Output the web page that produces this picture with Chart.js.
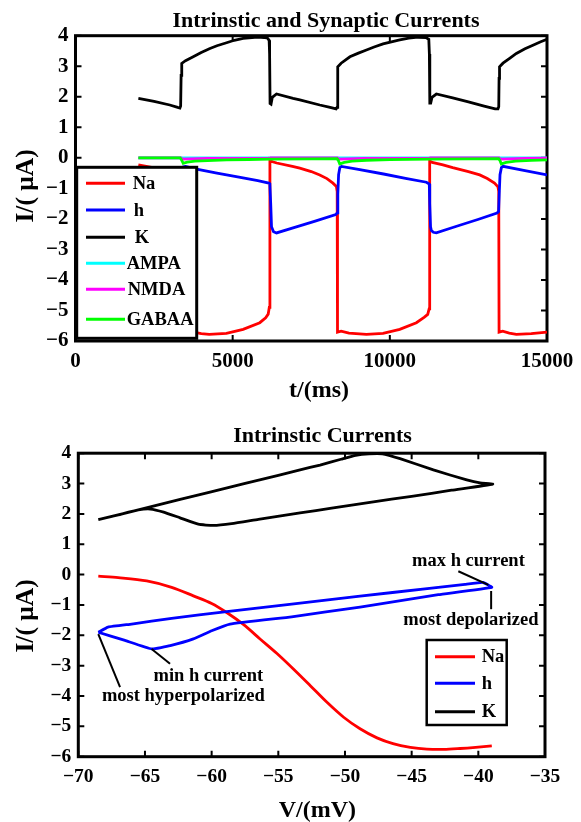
<!DOCTYPE html>
<html>
<head>
<meta charset="utf-8">
<title>Intrinstic and Synaptic Currents</title>
<script src="https://cdn.jsdelivr.net/npm/chart.js@4.4.0/dist/chart.umd.min.js"></script>
<style>
  body { margin: 0; background: #fff; }
  #wrap { position: relative; width: 581px; height: 822px; }
  canvas { position: absolute; left: 0; }
  #top-chart { top: 0; }
  #bottom-chart { top: 410px; }
</style>
</head>
<body>
<div id="wrap">
  <canvas id="top-chart" width="581" height="410"></canvas>
  <canvas id="bottom-chart" width="581" height="412"></canvas>
</div>
<script>
'use strict';

//Top panel: time (ms) vs current (uA)
let naT = [2000, 2500, 3000, 3250, 3340, 3353, 3420, 3600, 4000, 4253, 4800, 5333, 5863, 6050, 6130, 6165, 6185, 6250, 6400, 6900, 7136, 7500, 7771, 8000, 8190, 8300, 8325, 8335, 8450, 8700, 9256, 9784, 10315, 10845, 11100, 11205, 11250, 11268, 11350, 11690, 12000, 12500, 12860, 13100, 13330, 13440, 13465, 13475, 13590, 13800, 14025, 14500, 15000];
let naI = [-0.23, -0.33, -0.55, -0.78, -0.95, -5.65, -5.7, -5.68, -5.76, -5.78, -5.75, -5.62, -5.4, -5.24, -5.12, -4.9, -0.06, -0.12, -0.17, -0.28, -0.34, -0.45, -0.56, -0.68, -0.83, -0.94, -1.1, -5.71, -5.68, -5.74, -5.78, -5.75, -5.62, -5.4, -5.22, -5.13, -4.95, -0.1, -0.15, -0.23, -0.32, -0.45, -0.56, -0.68, -0.83, -0.95, -1.1, -5.71, -5.68, -5.74, -5.78, -5.76, -5.71];

let hT = [2000, 2800, 3330, 3350, 3365, 3390, 3430, 3500, 3852, 4500, 5200, 5800, 6150, 6183, 6210, 6236, 6300, 6395, 7000, 7600, 8280, 8330, 8345, 8370, 8410, 8461, 9000, 9800, 10500, 11163, 11255, 11270, 11295, 11321, 11385, 11480, 12100, 12800, 13410, 13460, 13480, 13505, 13550, 13600, 14300, 15000];
let hI = [-2.2, -2.02, -1.88, -1.75, -1.0, -0.45, -0.3, -0.28, -0.37, -0.5, -0.63, -0.75, -0.83, -0.85, -1.5, -2.26, -2.42, -2.46, -2.27, -2.08, -1.86, -1.8, -1.2, -0.55, -0.32, -0.28, -0.38, -0.53, -0.67, -0.8, -0.86, -1.5, -2.26, -2.38, -2.44, -2.46, -2.25, -2.02, -1.81, -1.76, -1.2, -0.55, -0.32, -0.28, -0.42, -0.56];

let kT = [2000, 2500, 3000, 3250, 3320, 3345, 3360, 3380, 3500, 3745, 4000, 4277, 4500, 4806, 5050, 5334, 5800, 6100, 6160, 6175, 6190, 6220, 6260, 6395, 6923, 7136, 7771, 8100, 8290, 8320, 8335, 8350, 8450, 8730, 9000, 9256, 9500, 9784, 10050, 10315, 10600, 10900, 11150, 11240, 11258, 11272, 11300, 11340, 11480, 12000, 12500, 13000, 13350, 13440, 13465, 13475, 13490, 13600, 13800, 14025, 14300, 14552, 14800, 15000];
let kI = [1.95, 1.85, 1.73, 1.65, 1.63, 1.7, 2.7, 3.09, 3.18, 3.31, 3.45, 3.58, 3.67, 3.77, 3.85, 3.91, 3.95, 3.93, 3.85, 3.4, 1.78, 1.76, 1.98, 2.09, 1.95, 1.9, 1.73, 1.65, 1.6, 1.65, 2.6, 2.98, 3.1, 3.31, 3.43, 3.53, 3.63, 3.73, 3.8, 3.86, 3.92, 3.95, 3.94, 3.88, 3.4, 1.79, 1.79, 1.98, 2.09, 1.96, 1.83, 1.69, 1.6, 1.6, 1.67, 2.6, 2.98, 3.1, 3.25, 3.42, 3.57, 3.69, 3.8, 3.88];

let ampaT = [2000, 15000];
let ampaI = [0, 0];

let nmdaT = [2000, 3353, 3400, 4200, 6183, 6200, 8333, 8380, 9200, 11268, 11290, 13472, 13520, 14300, 15000];
let nmdaI = [0, 0, -0.04, -0.02, -0.01, 0, 0, -0.04, -0.02, -0.01, 0, 0, -0.04, -0.02, -0.01];

let gabaT = [2000, 3330, 3370, 3427, 3550, 3800, 4200, 4806, 5500, 6183, 7500, 8320, 8360, 8407, 8550, 8800, 9256, 10000, 11268, 12500, 13460, 13500, 13547, 13700, 14000, 14500, 15000];
let gabaI = [0, 0, -0.06, -0.18, -0.14, -0.11, -0.09, -0.07, -0.055, -0.045, -0.035, -0.03, -0.08, -0.2, -0.15, -0.11, -0.08, -0.06, -0.045, -0.035, -0.03, -0.08, -0.2, -0.15, -0.11, -0.085, -0.07];

//Bottom panel: voltage (mV) vs current (uA)
let naV = [-68.5, -67, -64.87, -63, -61.37, -60, -58.87, -57.6, -56.37, -55.1, -53.87, -52.6, -51.37, -50.1, -48.87, -47.6, -46.4, -45.1, -43.86, -42.6, -41.37, -40.2, -38.99];
let naIV = [-0.05, -0.1, -0.21, -0.42, -0.7, -0.95, -1.25, -1.65, -2.12, -2.6, -3.11, -3.66, -4.2, -4.7, -5.08, -5.38, -5.57, -5.69, -5.75, -5.76, -5.73, -5.69, -5.64];

let hV = [-68.5, -67.77, -66, -63, -58.87, -54, -48.87, -44, -41, -39.64, -38.99, -43, -48.87, -54, -58.62, -60, -61.37, -63.1, -64.49, -66.5, -68.5];
let hIV = [-1.9, -1.73, -1.63, -1.44, -1.22, -0.97, -0.71, -0.47, -0.32, -0.26, -0.42, -0.66, -1.07, -1.39, -1.63, -1.85, -2.12, -2.34, -2.45, -2.17, -1.9];

let kV = [-68.5, -64.6, -60.12, -55, -53.37, -51.87, -50.3, -49.2, -48.2, -47.2, -45.87, -43.37, -40.87, -39.87, -38.92, -42, -45, -48, -51, -53.37, -56.5, -58.5, -59.87, -61, -62.37, -63.6, -64.6, -65.5, -67, -68.5];
let kIV = [1.81, 2.23, 2.72, 3.27, 3.45, 3.61, 3.8, 3.93, 3.98, 3.98, 3.82, 3.45, 3.12, 3.02, 2.98, 2.78, 2.58, 2.39, 2.19, 2.03, 1.82, 1.68, 1.62, 1.66, 1.87, 2.06, 2.16, 2.13, 1.97, 1.81];

//Tick labels
let topXTicks = [0, 5000, 10000, 15000];
let bottomXTicks = [-70, -65, -60, -55, -50, -45, -40, -35];
let yTicks = [-6, -5, -4, -3, -2, -1, 0, 1, 2, 3, 4];

//Notes on the phase plot (text anchor and pointer line, in mV / uA)
let noteTexts = ['max h current', 'most depolarized', 'min h current', 'most hyperpolarized'];
let noteAt = [[-40.74, 0.28], [-40.56, -1.66], [-60.25, -3.49], [-62.12, -4.18]];
let noteLines = [[-41.5, 0.11, -39.25, -0.34], [-39.04, -0.54, -39.04, -1.14], [-64.5, -2.45, -63.12, -2.94], [-68.5, -1.96, -66.87, -3.71]];

const SERIF = '"Liberation Serif", "Times New Roman", serif';

function toPoints(xs, ys){
  let pts = [];
  for (let i = 0; i < xs.length; i++){
    pts.push({x: xs[i], y: ys[i]});
  }
  return pts;
}

function fmt(v){
  return String(v).replace('-', '\u2212');
}

function makeSet(label, xs, ys, color, order, tension){
  return {
    label: label,
    data: toPoints(xs, ys),
    borderColor: color,
    backgroundColor: color,
    borderWidth: 2.8,
    pointRadius: 0,
    showLine: true,
    tension: tension || 0,
    order: order
  };
}

//frame, inside ticks, legend, titles and notes
let decorPlugin = {
  id: 'decor',
  beforeDatasetsDraw(chart, args, opts){
    let ctx = chart.ctx;
    let a = chart.chartArea;
    let xs = chart.scales.x;
    let ys = chart.scales.y;
    ctx.save();
    ctx.strokeStyle = '#000';
    ctx.lineWidth = 2;
    ctx.beginPath();
    xs.ticks.forEach(function(t){
      let p = xs.getPixelForValue(t.value);
      ctx.moveTo(p, a.bottom); ctx.lineTo(p, a.bottom - 6);
      ctx.moveTo(p, a.top); ctx.lineTo(p, a.top + 6);
    });
    ys.ticks.forEach(function(t){
      let p = ys.getPixelForValue(t.value);
      ctx.moveTo(a.left, p); ctx.lineTo(a.left + 6, p);
      ctx.moveTo(a.right, p); ctx.lineTo(a.right - 6, p);
    });
    ctx.stroke();
    ctx.lineWidth = 3;
    ctx.strokeRect(a.left, a.top, a.right - a.left, a.bottom - a.top);
    ctx.restore();
  },
  afterDatasetsDraw(chart, args, opts){
    let ctx = chart.ctx;
    let a = chart.chartArea;
    let xs = chart.scales.x;
    let ys = chart.scales.y;
    ctx.save();

    //notes
    if (opts.notes){
      ctx.strokeStyle = '#000';
      ctx.lineWidth = 2;
      noteLines.forEach(function(l){
        ctx.beginPath();
        ctx.moveTo(xs.getPixelForValue(l[0]), ys.getPixelForValue(l[1]));
        ctx.lineTo(xs.getPixelForValue(l[2]), ys.getPixelForValue(l[3]));
        ctx.stroke();
      });
      ctx.fillStyle = '#000';
      ctx.font = 'bold 18.5px ' + SERIF;
      ctx.textAlign = 'center';
      ctx.textBaseline = 'alphabetic';
      noteTexts.forEach(function(txt, i){
        ctx.fillText(txt, xs.getPixelForValue(noteAt[i][0]), ys.getPixelForValue(noteAt[i][1]));
      });
    }

    //legend box
    let lg = opts.legend;
    let bx = a.left + lg.x;
    let by = a.top + lg.y;
    ctx.fillStyle = '#fff';
    ctx.fillRect(bx, by, lg.w, lg.h);
    ctx.strokeStyle = '#000';
    ctx.lineWidth = lg.border;
    ctx.strokeRect(bx, by, lg.w, lg.h);
    ctx.font = 'bold 18.5px ' + SERIF;
    ctx.textAlign = 'left';
    ctx.textBaseline = 'middle';
    chart.data.datasets.forEach(function(ds, i){
      let y = by + lg.rows[i];
      ctx.strokeStyle = ds.borderColor;
      ctx.lineWidth = 3;
      ctx.beginPath();
      ctx.moveTo(bx + lg.line0, y);
      ctx.lineTo(bx + lg.line1, y);
      ctx.stroke();
      ctx.fillStyle = '#000';
      ctx.fillText(ds.label, bx + lg.textX[i], y + 1);
    });
    ctx.restore();
  },
  afterDraw(chart, args, opts){
    let ctx = chart.ctx;
    ctx.save();
    ctx.fillStyle = '#000';
    ctx.textAlign = 'center';
    ctx.textBaseline = 'alphabetic';
    ctx.font = 'bold 22px ' + SERIF;
    ctx.fillText(opts.title[0], opts.title[1], opts.title[2]);
    ctx.font = 'bold 24px ' + SERIF;
    ctx.fillText(opts.xTitle[0], opts.xTitle[1], opts.xTitle[2]);
    ctx.font = 'bold 25.5px ' + SERIF;
    ctx.translate(opts.yTitle[1], opts.yTitle[2]);
    ctx.rotate(-Math.PI / 2);
    ctx.fillText(opts.yTitle[0], 0, 0);
    ctx.restore();
  }
};

function makeScales(xMin, xMax, xTicks, tickSize, tickPad, yWidth, xHeight){
  return {
    x: {
      type: 'linear',
      min: xMin,
      max: xMax,
      grid: {display: false, drawTicks: false},
      border: {display: false},
      afterBuildTicks: function(s){ s.ticks = xTicks.map(v => ({value: v})); },
      afterFit: function(s){ s.height = xHeight; },
      ticks: {
        color: '#000',
        padding: tickPad,
        maxRotation: 0,
        autoSkip: false,
        font: {family: SERIF, size: tickSize, weight: 'bold'},
        callback: v => fmt(v)
      }
    },
    y: {
      type: 'linear',
      min: -6,
      max: 4,
      grid: {display: false, drawTicks: false},
      border: {display: false},
      afterBuildTicks: function(s){ s.ticks = yTicks.map(v => ({value: v})); },
      afterFit: function(s){ s.width = yWidth; },
      ticks: {
        color: '#000',
        padding: 7,
        autoSkip: false,
        font: {family: SERIF, size: tickSize, weight: 'bold'},
        callback: v => fmt(v)
      }
    }
  };
}

//Top chart
let topCtx = document.getElementById('top-chart').getContext('2d');
new Chart(topCtx, {
  type: 'scatter',
  data: {
    datasets: [
      makeSet('Na', naT, naI, '#ff0000', 6),
      makeSet('h', hT, hI, '#0000ff', 5),
      makeSet('K', kT, kI, '#000000', 4),
      makeSet('AMPA', ampaT, ampaI, '#00ffff', 3),
      makeSet('NMDA', nmdaT, nmdaI, '#ff00ff', 2),
      makeSet('GABAA', gabaT, gabaI, '#00ff00', 1)
    ]
  },
  options: {
    responsive: false,
    maintainAspectRatio: false,
    devicePixelRatio: 1,
    animation: false,
    events: [],
    layout: {padding: {top: 35.7, right: 34, left: 0, bottom: 0}},
    scales: makeScales(0, 15000, topXTicks, 21, 7.5, 75.5, 69),
    plugins: {
      legend: {display: false},
      tooltip: {enabled: false},
      decor: {
        title: ['Intrinstic and Synaptic Currents', 326, 26.5],
        xTitle: ['t/(ms)', 319, 396.5],
        yTitle: ['I/( \u03bcA)', 33, 186],
        notes: false,
        legend: {x: 1.2, y: 131.6, w: 120, h: 171, border: 3, line0: 9.3, line1: 48.3,
                 rows: [16, 42.7, 70, 96, 122, 152], textX: [56, 57, 58, 50, 51, 50]}
      }
    }
  },
  plugins: [decorPlugin]
});

//Bottom chart
let bottomCtx = document.getElementById('bottom-chart').getContext('2d');
new Chart(bottomCtx, {
  type: 'scatter',
  data: {
    datasets: [
      makeSet('Na', naV, naIV, '#ff0000', 3, 0.3),
      makeSet('h', hV, hIV, '#0000ff', 2, 0.1),
      makeSet('K', kV, kIV, '#000000', 1, 0.15)
    ]
  },
  options: {
    responsive: false,
    maintainAspectRatio: false,
    devicePixelRatio: 1,
    animation: false,
    events: [],
    layout: {padding: {top: 43.2, right: 36, left: 0, bottom: 0}},
    scales: makeScales(-70, -35, bottomXTicks, 19.5, 8.5, 78.3, 65.3),
    plugins: {
      legend: {display: false},
      tooltip: {enabled: false},
      decor: {
        title: ['Intrinstic Currents', 322.5, 31.7],
        xTitle: ['V/(mV)', 317.3, 406.5],
        yTitle: ['I/( \u03bcA)', 33, 206],
        notes: true,
        legend: {x: 348.4, y: 186.8, w: 80, h: 85, border: 2.5, line0: 8.3, line1: 48.3,
                 rows: [16.7, 43.3, 71.7], textX: [55, 55, 55]}
      }
    }
  },
  plugins: [decorPlugin]
});
</script>
</body>
</html>
